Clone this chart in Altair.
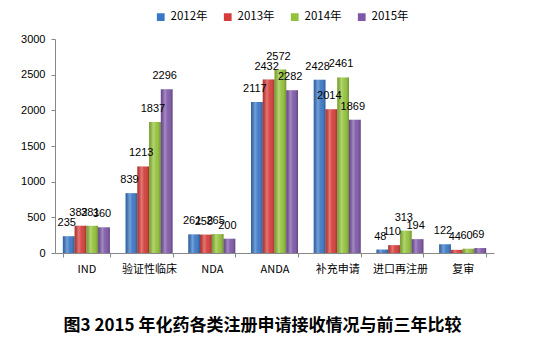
import altair as alt
import pandas as pd

categories = ["IND", "验证性临床", "NDA", "ANDA", "补充申请", "进口再注册", "复审"]
years = ["2012年", "2013年", "2014年", "2015年"]
v2012 = [235, 839, 261, 2117, 2428, 48, 122]
v2013 = [382, 1213, 258, 2432, 2014, 110, 44]
v2014 = [381, 1837, 265, 2572, 2461, 313, 60]
v2015 = [360, 2296, 200, 2282, 1869, 194, 69]
colors = ["#3a78c6", "#d63d3a", "#93c23a", "#7e58a8"]

rows = []
for y, vals in zip(years, [v2012, v2013, v2014, v2015]):
    for c, v in zip(categories, vals):
        rows.append({"cat": c, "year": y, "value": v})
df = pd.DataFrame(rows)

x = alt.X("cat:N", sort=categories, title=None,
          scale=alt.Scale(paddingInner=0.25, paddingOuter=0.125),
          axis=alt.Axis(labelAngle=0, tickBand="extent", labelFont="Noto Sans CJK SC",
                        labelFontSize=11, labelColor="#000", labelPadding=6,
                        domainColor="#888", tickColor="#888", tickSize=4))
y = alt.Y("value:Q", title=None,
          scale=alt.Scale(domain=[0, 3000]),
          axis=alt.Axis(values=[0, 500, 1000, 1500, 2000, 2500, 3000], grid=False,
                        format="d",
                        labelFont="Liberation Sans", labelFontSize=11, labelColor="#000",
                        domainColor="#888", tickColor="#888", tickSize=4, labelPadding=6))
xo = alt.XOffset("year:N", sort=years)

base = alt.Chart(df)

bars = base.mark_bar().encode(
    x=x, y=y, xOffset=xo,
    color=alt.Color("year:N", sort=years,
                    scale=alt.Scale(domain=years, range=colors),
                    legend=alt.Legend(title=None, orient="none", direction="horizontal",
                                      legendX=100, legendY=-28, symbolType="square",
                                      symbolSize=60, labelFont="Noto Sans CJK SC",
                                      labelFontSize=11.5, labelColor="#000",
                                      columnPadding=14, symbolStrokeWidth=0)),
)

shine = base.mark_bar(
    color=alt.Gradient(
        gradient="linear", x1=0, x2=1, y1=0, y2=0,
        stops=[alt.GradientStop(offset=0, color="rgba(0,0,0,0.18)"),
               alt.GradientStop(offset=0.35, color="rgba(255,255,255,0.30)"),
               alt.GradientStop(offset=0.6, color="rgba(255,255,255,0.05)"),
               alt.GradientStop(offset=1, color="rgba(0,0,0,0.25)")])
).encode(x=x, y=y, xOffset=xo)

labels = base.mark_text(dy=-13, dx=-2, font="Liberation Sans", fontSize=11,
                        color="#000").encode(
    x=x, y=y, xOffset=xo, text="value:Q")

chart = alt.layer(bars, shine, labels).properties(
    width=439, height=214,
    autosize=alt.AutoSizeParams(type="none"),
    padding={"left": 55, "top": 39, "right": 47, "bottom": 100},
    background="white",
    title=alt.TitleParams("图3  2015 年化药各类注册申请接收情况与前三年比较",
                          orient="bottom", anchor="middle", offset=44, dx=-12,
                          font="Noto Sans CJK SC", fontSize=17, fontWeight="bold",
                          color="#000"),
).configure_view(stroke=None)

chart.save("out.html", embed_options={"renderer": "svg", "actions": False})
